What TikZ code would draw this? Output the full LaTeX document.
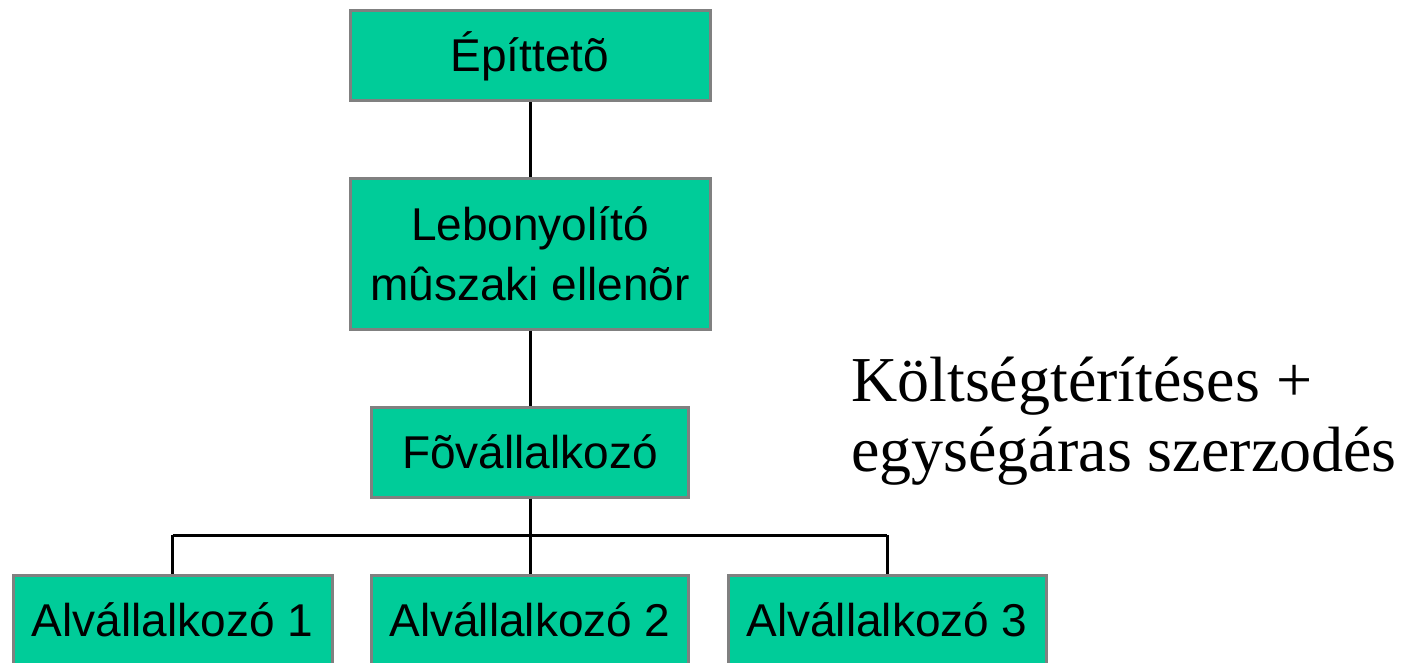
\documentclass[tikz,border=0pt]{standalone}
\usepackage{fontspec}
\setmainfont{Liberation Sans}
\newfontfamily\seriffont{Liberation Serif}
\definecolor{boxgreen}{HTML}{00CC99}
\definecolor{boxgray}{HTML}{808080}
\begin{document}
\begin{tikzpicture}[x=1pt,y=-1pt,
  orgbox/.style={draw=boxgray,line width=3pt,fill=boxgreen,inner sep=0pt,
    align=center,font=\fontsize{46}{60}\selectfont},
  link/.style={draw=black,line width=3pt},
  note/.style={anchor=base west,inner sep=0pt,font=\seriffont\fontsize{64}{70}\selectfont}]
\useasboundingbox (0,0) rectangle (1408,663);
\node[orgbox,minimum width=360pt,minimum height=90pt] (epit) at (530,56) {Építtetõ};
\node[orgbox,minimum width=360pt,minimum height=150pt] (lebo) at (530,254) {Lebonyolító\\mûszaki ellenõr};
\node[orgbox,minimum width=317pt,minimum height=90pt] (fo) at (530,452) {Fõvállalkozó};
\node[orgbox,minimum width=319pt,minimum height=90pt] (a1) at (172.5,620) {Alvállalkozó 1};
\node[orgbox,minimum width=317pt,minimum height=90pt] (a2) at (530,620) {Alvállalkozó 2};
\node[orgbox,minimum width=318pt,minimum height=90pt] (a3) at (887,620) {Alvállalkozó 3};
\coordinate (busL) at (a1.north |- 0,535);
\coordinate (busM) at (fo.south |- 0,535);
\coordinate (busR) at (a3.north |- 0,535);
\draw[link] (epit.south) -- (lebo.north);
\draw[link] (lebo.south) -- (fo.north);
\draw[link] (fo.south) -- (busM);
\draw[link] (busL) -- (busR);
\draw[link] (busL) -- (a1.north);
\draw[link] (busM) -- (a2.north);
\draw[link] (busR) -- (a3.north);
\node[note] (t1) at (851,401) {Költségtérítéses +};
\node[note] (t2) at (851,471) {egységáras szerzodés};
\end{tikzpicture}
\end{document}
